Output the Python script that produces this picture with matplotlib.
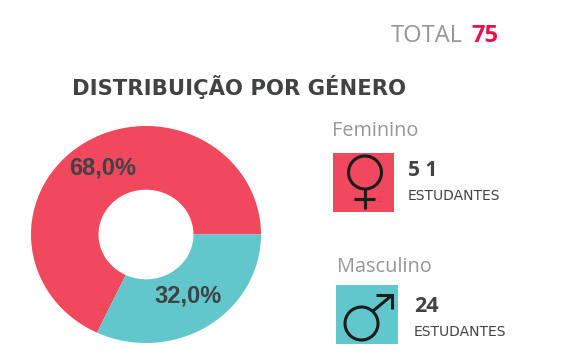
#!/usr/bin/env python3
import matplotlib
matplotlib.use("Agg")
import matplotlib.pyplot as plt
from matplotlib.patches import Circle, Rectangle

W, H = 570, 360

categories = ["Feminino", "Masculino"]
percentages = [68.0, 32.0]
students = [51, 24]
total = 75
pie_labels = ["68,0%", "32,0%"]

pink = "#f0485c"
teal = "#61c7cc"
dark = "#404244"
grey = "#969696"
icon = "#1c1c1c"

plt.rcParams["font.family"] = ["Open Sans", "DejaVu Sans"]

fig = plt.figure(figsize=(W / 100, H / 100), dpi=100, facecolor="white")

# donut is slightly squashed in the reference, so the aspect is left free
left, right, top, bottom = 31, 261, 126, 343
ax = fig.add_axes([left / W, 1 - bottom / H, (right - left) / W, (bottom - top) / H])
ax.pie(percentages, colors=[pink, teal], startangle=0, radius=1,
       wedgeprops=dict(width=1 - 95 / 230, linewidth=0))
ax.set_aspect("auto")
ax.set_xlim(-1, 1)
ax.set_ylim(-1, 1)

# everything else in an overlay with pixel coordinates, y going down
ov = fig.add_axes([0, 0, 1, 1])
ov.set_xlim(0, W)
ov.set_ylim(H, 0)
ov.axis("off")
ov.patch.set_alpha(0)

ov.text(102.5, 168, pie_labels[0], fontsize=17, fontweight="bold", color=dark,
        family="Liberation Sans", ha="center", va="center")
ov.text(188.5, 296, pie_labels[1], fontsize=17, fontweight="bold", color=dark,
        family="Liberation Sans", ha="center", va="center")

ov.text(463, 36, "TOTAL", fontsize=17, color=grey, ha="right", va="center")
ov.text(471, 36, str(total), fontsize=17, color="#e8104a", fontweight="bold",
        ha="left", va="center")
ov.text(72, 87, "DISTRIBUIÇÃO POR GÉNERO", fontsize=15.2, color=dark,
        fontweight="bold", family="DejaVu Sans", ha="left", va="center")

# feminino
ov.text(332, 131, categories[0], fontsize=14.3, color=grey, ha="left", va="center")
ov.add_patch(Rectangle((333, 153), 61, 59, facecolor=pink, edgecolor="none"))
ov.add_patch(Circle((365, 172.5), 16.5, fill=False, edgecolor=icon, lw=2.2))
ov.plot([365, 365], [189, 209], color=icon, lw=2.2, solid_capstyle="butt")
ov.plot([354, 375], [199, 199], color=icon, lw=2.2, solid_capstyle="butt")
ov.text(408, 170, "5 1", fontsize=15, color=dark, fontweight="bold",
        ha="left", va="center")
ov.text(408, 196, "ESTUDANTES", fontsize=10, color=dark, family="DejaVu Sans",
        ha="left", va="center")

# masculino
ov.text(337, 267, categories[1], fontsize=14.3, color=grey, ha="left", va="center")
ov.add_patch(Rectangle((336, 285), 62, 59, facecolor=teal, edgecolor="none"))
ov.add_patch(Circle((361.5, 323.5), 16.5, fill=False, edgecolor=icon, lw=2.2))
ov.plot([373, 391], [311, 296], color=icon, lw=2.2, solid_capstyle="butt")
ov.plot([376, 391.5, 391.5], [295, 295, 309], color=icon, lw=2.2,
        solid_joinstyle="miter", solid_capstyle="butt")
ov.text(414, 306, str(students[1]), fontsize=15.5, color=dark, fontweight="bold",
        ha="left", va="center")
ov.text(414, 332, "ESTUDANTES", fontsize=10, color=dark, family="DejaVu Sans",
        ha="left", va="center")

fig.savefig("out.png", dpi=100)
